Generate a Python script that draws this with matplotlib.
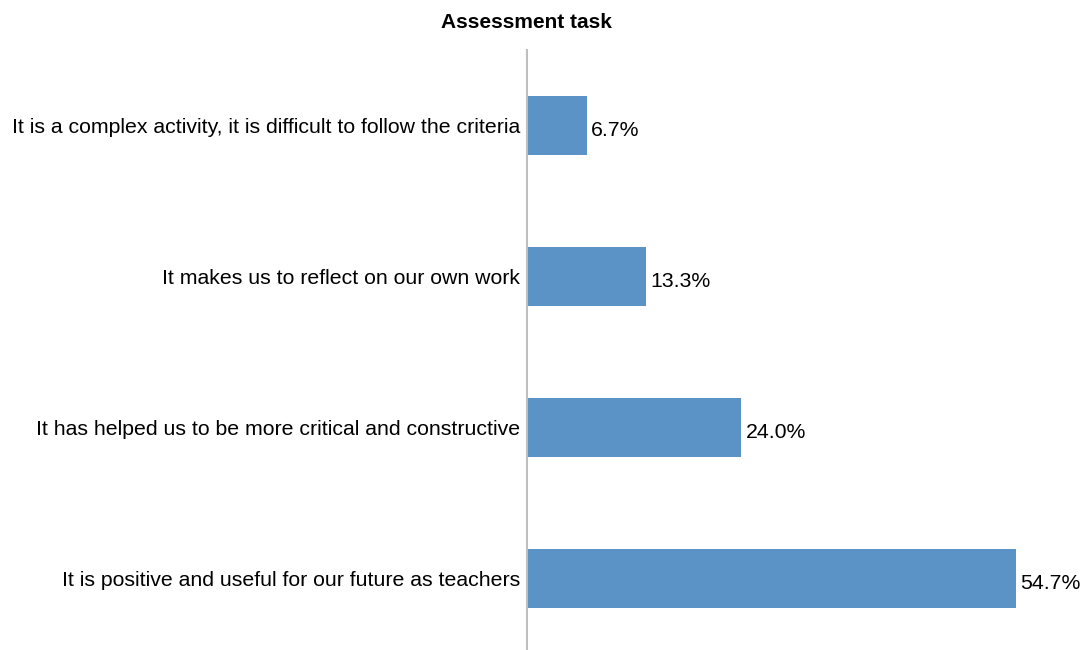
import matplotlib.pyplot as plt

plt.rcParams['font.family'] = ['Liberation Sans', 'DejaVu Sans']

labels = [
    'It is a complex activity, it is difficult to follow the criteria',
    'It makes us to reflect on our own work',
    'It has helped us to be more critical and constructive',
    'It is positive and useful for our future as teachers',
]
values = [6.7, 13.3, 24.0, 54.7]

fig = plt.figure(figsize=(10.82, 6.5), dpi=100)
ax = fig.add_axes([527 / 1082, 0, (1082 - 527) / 1082, 600 / 650])

pos = list(range(len(labels)))
ax.barh(pos, values, height=0.39, color='#5b93c7')
for y, v in zip(pos, values):
    ax.text(v + 0.45, y + 0.02, f'{v:.1f}%', va='center_baseline', ha='left',
            fontsize=15.3)

ax.set_xlim(0, 62.1)
ax.set_ylim(3.47, -0.5)
ax.set_yticks(pos)
ax.set_yticklabels(labels, fontsize=15.3, va='center_baseline')
ax.tick_params(axis='y', length=0, pad=5)
ax.set_xticks([])
for side in ['top', 'right', 'bottom']:
    ax.spines[side].set_visible(False)
ax.spines['left'].set_color('#bfbfbf')
ax.spines['left'].set_linewidth(1.5)

fig.text(526 / 1082, 1 - 23 / 650, 'Assessment task', ha='center', va='center',
         fontsize=15, fontweight='bold')

fig.savefig('out.png', dpi=100)
